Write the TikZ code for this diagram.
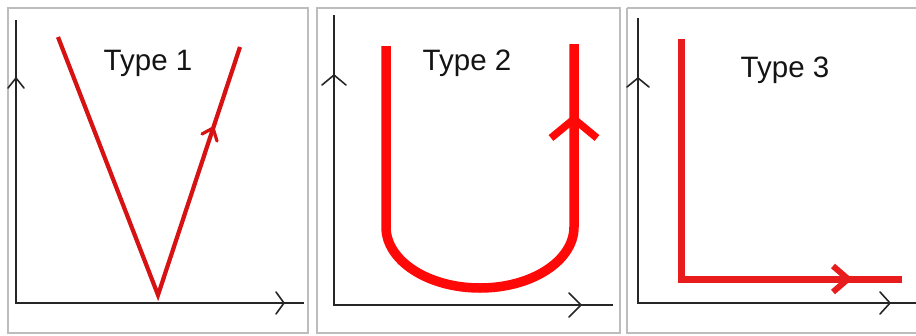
\documentclass[tikz,border=0pt]{standalone}
\usepackage{fontspec}
\setmainfont{Liberation Sans}
\begin{document}
\begin{tikzpicture}[x=1pt,y=-1pt,
  frame/.style={draw=black!26,line width=1.8pt},
  axis/.style={draw=black!85,line width=1.8pt},
  chev/.style={draw=black!85,line width=1.6pt,line cap=round,line join=round},
  vcurve/.style={draw={rgb,255:red,214;green,18;blue,18},line width=4.2pt,line join=miter},
  ucurve/.style={draw={rgb,255:red,255;green,8;blue,8},line width=9.5pt},
  lcurve/.style={draw={rgb,255:red,232;green,28;blue,28},line width=7pt,line join=miter},
  lbl/.style={font=\fontsize{29.5}{30}\selectfont,text=black!92,inner sep=0pt}]
\useasboundingbox (0,0) rectangle (916,335);
\fill[white] (0,0) rectangle (916,335);

% panel frames
\draw[frame] (8,8) rectangle (308,333);
\draw[frame] (317,8) rectangle (620,333);
\draw[frame] (627,8) -- (627,333) -- (930,333);
\draw[frame] (627,8) -- (930,8);

% ---------- Type 1 ----------
\draw[axis] (16,20) -- (16,303) -- (304,303);
\draw[chev] (8,88) -- (16,78) -- (24,88);
\draw[chev] (276,292) -- (284,303) -- (276,314);
\coordinate (v1) at (58,37);
\coordinate (v2) at (158,295);
\coordinate (v3) at (240,47);
\draw[vcurve] (v1) -- (v2) -- (v3);
\draw[vcurve,line width=3.2pt,line cap=round] (202,134) -- (213,128) -- (217,141);
\node[lbl] (t1) at (148,63) {Type 1};

% ---------- Type 2 ----------
\draw[axis] (334,15) -- (334,305) -- (613,305);
\draw[chev] (322,85) -- (334,75) -- (346,85);
\draw[chev] (569,293) -- (581,305) -- (569,317);
\draw[ucurve] (386,46) -- (386,227) arc[start angle=180,end angle=360,x radius=94,y radius=-61] -- (574,44);
\draw[ucurve,line width=7.5pt] (551,138) -- (574,119) -- (597,138);
\node[lbl] (t2) at (467,63) {Type 2};

% ---------- Type 3 ----------
\draw[axis] (638,18) -- (638,303) -- (916,303);
\draw[chev] (627,87) -- (638,78) -- (649,87);
\draw[chev] (880,292) -- (890,303) -- (880,314);
\draw[lcurve] (681,39) -- (681,279) -- (902,279);
\draw[lcurve,line width=6pt] (833,266) -- (848,279) -- (833,292);
\node[lbl] (t3) at (785,70) {Type 3};
\end{tikzpicture}
\end{document}
